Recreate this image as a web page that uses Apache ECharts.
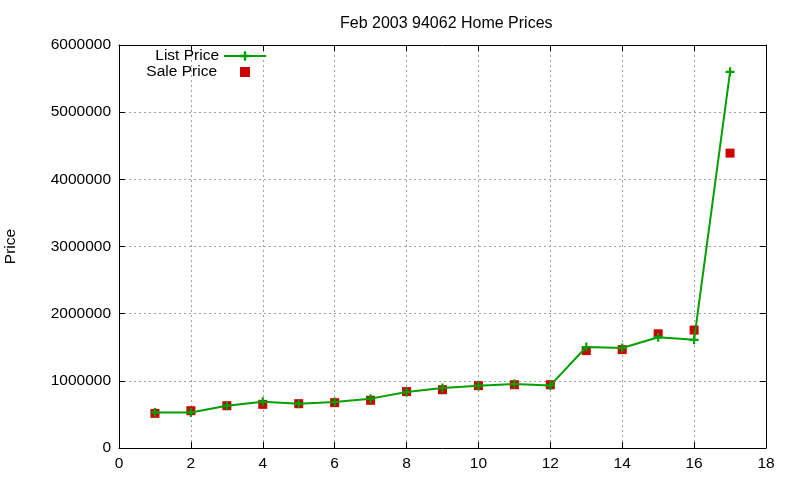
<!DOCTYPE html>
<html>
<head>
<meta charset="utf-8">
<script src="https://cdn.jsdelivr.net/npm/echarts@6/dist/echarts.min.js"></script>
<style>
  html, body { margin: 0; padding: 0; background: #fff; }
  #chart { width: 800px; height: 480px; }
</style>
</head>
<body>
<div id="chart"></div>
<script>
// Home index (1..17) and prices
const homes = [1, 2, 3, 4, 5, 6, 7, 8, 9, 10, 11, 12, 13, 14, 15, 16, 17];
const listPrice = [530000, 530000, 630000, 690000, 660000, 685000, 735000, 835000, 893000, 928000,
                   953000, 932000, 1504000, 1490000, 1650000, 1610000, 5600000];
const salePrice = [515000, 555000, 630000, 650000, 660000, 675000, 710000, 840000, 868000, 928000,
                   942000, 942000, 1450000, 1465000, 1700000, 1755000, 4390000];

const FONT = '"Liberation Sans", Arial, sans-serif';
const FS = 15.5;
const plusSymbol = 'path://M0,3.8H10V6.2H0Z M3.8,0H6.2V10H3.8Z';
const squareSymbol = 'path://M0,0H10V10H0Z';

const chart = echarts.init(document.getElementById('chart'));

const gridLine = { show: true, lineStyle: { color: '#a0a0a0', type: [2, 3], width: 1 } };
const border = { show: true, onZero: false, lineStyle: { color: '#000', width: 1 } };
const innerTick = { show: true, inside: true, length: 6, lineStyle: { color: '#000' } };

const option = {
  animation: false,
  backgroundColor: '#fff',
  textStyle: { fontFamily: FONT },
  title: {
    text: 'Feb 2003 94062 Home Prices',
    left: 335,
    top: 11,
    textStyle: { fontFamily: FONT, fontSize: 16, fontWeight: 'normal', color: '#000' }
  },
  grid: { left: 119, right: 34, top: 45, bottom: 32, outerBoundsMode: 'none', containLabel: false },
  legend: [
    {
      data: ['List Price'],
      right: 533, top: 48, padding: 0,
      align: 'right',
      itemWidth: 42, itemHeight: 12,
      textStyle: { fontFamily: FONT, fontSize: FS, color: '#000' }
    },
    {
      data: [{ name: 'Sale Price', icon: squareSymbol }],
      right: 550, top: 64, padding: 0,
      align: 'right',
      itemWidth: 10, itemHeight: 10,
      textStyle: { fontFamily: FONT, fontSize: FS, color: '#000', padding: [0, 18, 0, 0] }
    }
  ],
  xAxis: [
    {
      type: 'value', min: 0, max: 18, interval: 2,
      axisLine: border, axisTick: innerTick, splitLine: gridLine,
      axisLabel: { fontFamily: FONT, fontSize: FS, color: '#000', margin: 8 }
    },
    {
      type: 'value', position: 'top', min: 0, max: 18, interval: 2,
      axisLine: border, axisTick: innerTick, splitLine: { show: false },
      axisLabel: { show: false }
    }
  ],
  yAxis: [
    {
      type: 'value', min: 0, max: 6000000, interval: 1000000,
      name: 'Price', nameLocation: 'middle', nameGap: 100, nameRotate: 90,
      nameTextStyle: { fontFamily: FONT, fontSize: FS, color: '#000' },
      axisLine: border, axisTick: innerTick, splitLine: gridLine,
      axisLabel: { fontFamily: FONT, fontSize: FS, color: '#000', margin: 8, formatter: v => String(v) }
    },
    {
      type: 'value', position: 'right', min: 0, max: 6000000, interval: 1000000,
      axisLine: border, axisTick: innerTick, splitLine: { show: false },
      axisLabel: { show: false }
    }
  ],
  series: [
    {
      name: 'List Price',
      type: 'line',
      data: homes.map((h, i) => [h, listPrice[i]]),
      symbol: plusSymbol,
      symbolKeepAspect: true,
      symbolSize: 9,
      showAllSymbol: true,
      lineStyle: { color: '#00a000', width: 2 },
      itemStyle: { color: '#00a000' }
    },
    {
      name: 'Sale Price',
      type: 'scatter',
      data: homes.map((h, i) => [h, salePrice[i]]),
      symbol: squareSymbol,
      symbolKeepAspect: true,
      symbolSize: 9,
      itemStyle: { color: '#cc0000', opacity: 1 }
    }
  ]
};

chart.setOption(option);
</script>
</body>
</html>
